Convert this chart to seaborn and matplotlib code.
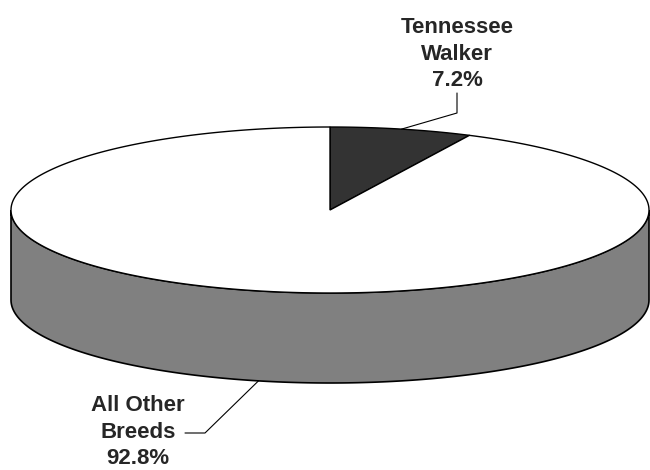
import numpy as np
import matplotlib
matplotlib.use("Agg")
import matplotlib.pyplot as plt
from matplotlib.patches import Polygon
import seaborn as sns

# --- data ---
labels = ["Tennessee\nWalker", "All Other\nBreeds"]
shares = [7.2, 92.8]
colors = ["#333333", "#ffffff"]
side_color = "#808080"

sns.set_style("white")
plt.rcParams['font.family'] = ['Liberation Sans', 'DejaVu Sans']

# pie geometry in pixel coordinates
cx, cy = 330, 210
rx, ry = 319, 83
depth = 90


def ell(t):
    # t in degrees, image y grows downwards
    t = np.radians(t)
    return cx + rx * np.cos(t), cy - ry * np.sin(t)


fig = plt.figure(figsize=(6.5, 4.7), dpi=100)
ax = fig.add_axes([0, 0, 1, 1])
ax.set_xlim(0, 650)
ax.set_ylim(470, 0)
ax.axis("off")

# side wall (front half of the cylinder)
t = np.linspace(180, 360, 200)
xs, ys = ell(t)
side = np.column_stack([np.r_[xs, xs[::-1]], np.r_[ys, ys[::-1] + depth]])
ax.add_patch(Polygon(side, closed=True, facecolor=side_color, edgecolor="black", lw=1.2, zorder=1))

# top slices, clockwise from 12 o'clock
start = 90.0
mids = []
for share, col in zip(shares, colors):
    sweep = 360 * share / 100
    tt = np.linspace(start, start - sweep, 300)
    px, py = ell(tt)
    pts = np.column_stack([np.r_[cx, px], np.r_[cy, py]])
    ax.add_patch(Polygon(pts, closed=True, facecolor=col, edgecolor="black", lw=1.0, zorder=2))
    mids.append(start - sweep / 2)
    start -= sweep

# labels with leader lines
mx, my = ell(mids[0])
ax.plot([mx, 457, 457], [my, 113, 93], color="black", lw=0.8, zorder=3)
ax.text(457, 54, f"{labels[0]}\n{shares[0]:.1f}%", ha="center", va="center",
        fontsize=16, fontweight="bold", linespacing=1.35)

mx, my = ell(mids[1])
ax.plot([mx, 205, 185], [my + depth, 433, 433], color="black", lw=0.8, zorder=3)
ax.text(138, 432, f"{labels[1]}\n{shares[1]:.1f}%", ha="center", va="center",
        fontsize=16, fontweight="bold", linespacing=1.35)

fig.savefig("out.png", dpi=100)
